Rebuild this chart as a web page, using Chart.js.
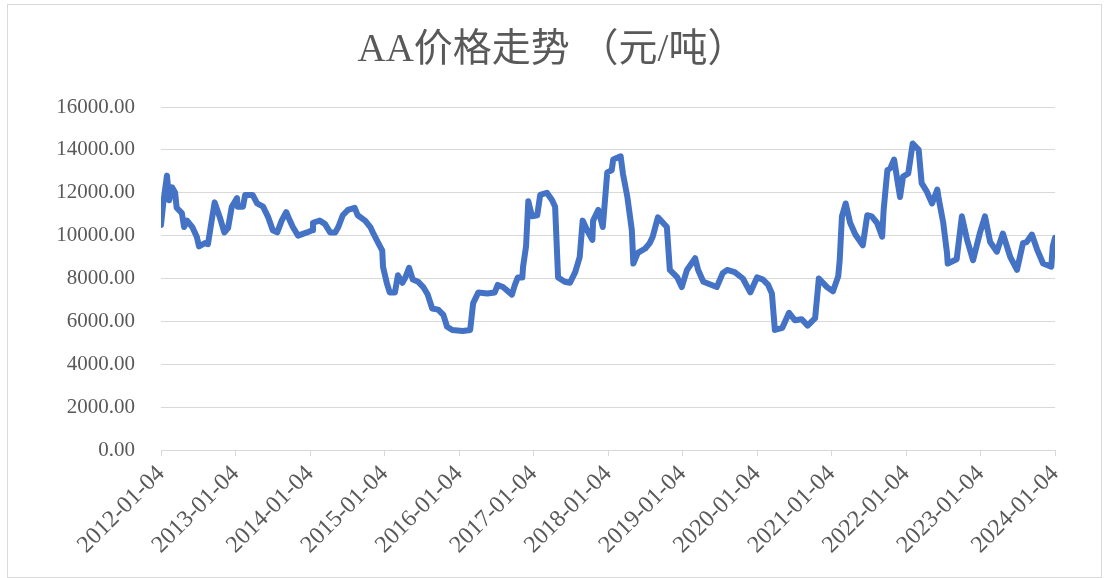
<!DOCTYPE html>
<html>
<head>
<meta charset="utf-8">
<script src="https://cdn.jsdelivr.net/npm/chart.js@4.4.1/dist/chart.umd.min.js"></script>
<style>
  body { margin: 0; background: #fff; }
  #wrap { position: relative; width: 1108px; height: 578px; }
  #frame { position: absolute; left: 7px; top: 4px; width: 1093px; height: 572px; border: 1px solid #d9d9d9; pointer-events: none; }
  #title {
    position: absolute; left: 0; width: 1104px; top: 24px; height: 48px; line-height: 48px;
    text-align: center; color: #595959; font-size: 39px;
    font-family: 'Liberation Serif', 'Noto Sans CJK SC', serif;
  }
  canvas { position: absolute; left: 0; top: 0; }
</style>
</head>
<body>
<div id="wrap">
  <canvas id="aaChart" width="1108" height="578"></canvas>
  <div id="title"></div>
  <div id="frame"></div>
</div>
<script>
// 标题与刻度
const chartTitle = 'AA价格走势 （元/吨）';
const yearTicks = [2012, 2013, 2014, 2015, 2016, 2017, 2018, 2019, 2020, 2021, 2022, 2023, 2024];

// 时间（小数年份，从图上读取）
const timeYears = [
  2012.00, 2012.03, 2012.08, 2012.11, 2012.15, 2012.19, 2012.21, 2012.28, 2012.31, 2012.35,
  2012.42, 2012.48, 2012.51, 2012.59, 2012.63, 2012.68, 2012.72, 2012.79, 2012.85, 2012.90,
  2012.95, 2013.02, 2013.03, 2013.10, 2013.13, 2013.23, 2013.29, 2013.37, 2013.44, 2013.50,
  2013.56, 2013.62, 2013.68, 2013.73, 2013.77, 2013.84, 2013.96, 2014.03, 2014.04, 2014.13,
  2014.20, 2014.27, 2014.34, 2014.38, 2014.44, 2014.51, 2014.60, 2014.64, 2014.74, 2014.81,
  2014.85, 2014.91, 2014.97, 2014.98, 2015.03, 2015.07, 2015.14, 2015.18, 2015.24, 2015.28,
  2015.33, 2015.38, 2015.45, 2015.52, 2015.58, 2015.64, 2015.72, 2015.79, 2015.84, 2015.91,
  2016.05, 2016.15, 2016.19, 2016.26, 2016.38, 2016.48, 2016.52, 2016.59, 2016.71, 2016.75,
  2016.79, 2016.85, 2016.86, 2016.90, 2016.93, 2016.98, 2017.05, 2017.09, 2017.18, 2017.25,
  2017.29, 2017.33, 2017.42, 2017.49, 2017.56, 2017.62, 2017.66, 2017.72, 2017.79, 2017.80,
  2017.87, 2017.93, 2017.99, 2018.05, 2018.07, 2018.17, 2018.20, 2018.26, 2018.32, 2018.34,
  2018.40, 2018.50, 2018.56, 2018.60, 2018.67, 2018.79, 2018.83, 2018.93, 2018.99, 2019.06,
  2019.17, 2019.21, 2019.28, 2019.46, 2019.54, 2019.60, 2019.70, 2019.81, 2019.91, 2020.00,
  2020.08, 2020.15, 2020.20, 2020.24, 2020.34, 2020.43, 2020.51, 2020.60, 2020.68, 2020.78,
  2020.83, 2020.94, 2021.02, 2021.09, 2021.11, 2021.14, 2021.19, 2021.25, 2021.32, 2021.42,
  2021.48, 2021.54, 2021.61, 2021.68, 2021.70, 2021.75, 2021.79, 2021.84, 2021.92, 2021.96,
  2022.03, 2022.09, 2022.17, 2022.21, 2022.28, 2022.35, 2022.42, 2022.44, 2022.50, 2022.55,
  2022.56, 2022.68, 2022.75, 2022.82, 2022.90, 2022.99, 2023.06, 2023.13, 2023.22, 2023.30,
  2023.40, 2023.49, 2023.57, 2023.62, 2023.69, 2023.76, 2023.84, 2023.95, 2023.97, 2024.00
];

// AA价格（元/吨）
const aaPrices = [
  10500, 11500, 12800, 11650, 12250, 12000, 11300, 11050, 10400, 10700,
  10400, 9950, 9500, 9650, 9600, 10700, 11550, 10850, 10150, 10350,
  11350, 11750, 11350, 11350, 11900, 11900, 11500, 11350, 10850, 10250,
  10150, 10700, 11100, 10700, 10400, 10000, 10150, 10250, 10600, 10700,
  10550, 10150, 10150, 10400, 10950, 11200, 11300, 10950, 10700, 10400,
  10100, 9700, 9300, 8550, 7800, 7350, 7350, 8150, 7800, 8050,
  8500, 7950, 7850, 7600, 7250, 6600, 6550, 6300, 5750, 5600,
  5550, 5600, 6850, 7350, 7300, 7350, 7700, 7600, 7250, 7700,
  8050, 8050, 8550, 9500, 11600, 10900, 10950, 11900, 12000, 11650,
  11350, 8050, 7850, 7800, 8300, 9000, 10700, 10250, 9800, 10700,
  11200, 10400, 12950, 13050, 13550, 13700, 12900, 11800, 10250, 8700,
  9200, 9400, 9650, 9950, 10850, 10400, 8400, 8050, 7600, 8400,
  8950, 8400, 7850, 7600, 8250, 8400, 8300, 8000, 7350, 8050,
  7950, 7700, 7300, 5600, 5700, 6400, 6050, 6100, 5800, 6150,
  8000, 7600, 7400, 8100, 8850, 10900, 11500, 10600, 10050, 9550,
  10950, 10900, 10600, 9950, 11200, 13050, 13150, 13550, 11800, 12750,
  12900, 14300, 14000, 12450, 12050, 11500, 12150, 11700, 10600, 9200,
  8700, 8900, 10900, 9800, 8850, 10100, 10900, 9700, 9250, 10100,
  9000, 8400, 9650, 9700, 10050, 9350, 8700, 8550, 9500, 9900
];

document.getElementById('title').textContent = chartTitle;

const pricePoints = timeYears.map((t, i) => ({ x: t, y: aaPrices[i] }));

const serif = "'Liberation Serif', 'Times New Roman', serif";

const ctx = document.getElementById('aaChart').getContext('2d');
const aaChart = new Chart(ctx, {
    type: 'line',
    data: {
        datasets: [{
            label: 'AA',
            data: pricePoints,
            borderColor: '#4472C4',
            backgroundColor: '#4472C4',
            borderWidth: 6,
            pointRadius: 0,
            tension: 0,
            borderJoinStyle: 'round',
            borderCapStyle: 'round'
        }]
    },
    options: {
        responsive: false,
        animation: false,
        layout: { padding: { left: 0, right: 53, top: 107, bottom: 0 } },
        plugins: {
            legend: { display: false },
            tooltip: { enabled: false },
            title: { display: false }
        },
        scales: {
            x: {
                type: 'linear',
                min: yearTicks[0],
                max: yearTicks[yearTicks.length - 1],
                afterBuildTicks: (scale) => {
                    scale.ticks = yearTicks.map(v => ({ value: v }));
                },
                afterFit: (scale) => { scale.height = 128; },
                ticks: {
                    color: '#595959',
                    font: { family: serif, size: 24 },
                    minRotation: 45,
                    maxRotation: 45,
                    padding: 4,
                    autoSkip: false,
                    callback: (v) => `${v}-01-04`
                },
                grid: {
                    drawOnChartArea: false,
                    drawTicks: true,
                    tickLength: 6,
                    color: '#d9d9d9'
                },
                border: { display: true, color: '#d9d9d9', width: 1 }
            },
            y: {
                min: 0,
                max: 16000,
                afterFit: (scale) => { scale.width = 161; },
                ticks: {
                    stepSize: 2000,
                    color: '#595959',
                    font: { family: serif, size: 21 },
                    padding: 26,
                    callback: (v) => v.toFixed(2)
                },
                grid: { color: '#d9d9d9', lineWidth: 1, drawTicks: false },
                border: { display: false }
            }
        }
    }
});
</script>
</body>
</html>
